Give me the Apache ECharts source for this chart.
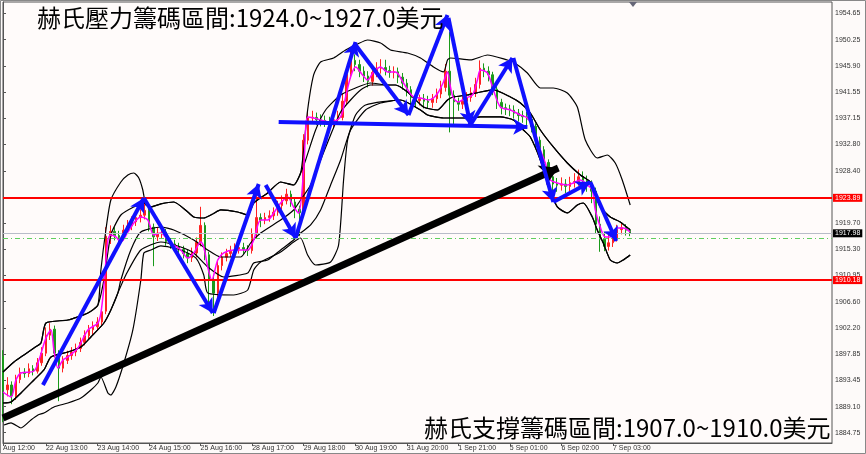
<!DOCTYPE html>
<html><head><meta charset="utf-8">
<script src="https://cdn.jsdelivr.net/npm/echarts@6/dist/echarts.min.js"></script>
<style>html,body{margin:0;padding:0;background:#fdfaf9;}#c{width:866px;height:454px;}</style>
</head><body><div id="c"></div>
<script>
// ---- data ----
const nCats = 194;
const xTickIdx = [0,10,22,34,46,58,70,82,94,106,118,130,142];
const xTickText = ['Aug 12:00','22 Aug 13:00','23 Aug 14:00','24 Aug 15:00','25 Aug 16:00','28 Aug 17:00','29 Aug 18:00','30 Aug 19:00','31 Aug 20:00','1 Sep 21:00','5 Sep 01:00','6 Sep 02:00','7 Sep 03:00'];
const yTicks = [1884.75,1889.10,1893.45,1897.85,1902.20,1906.60,1910.95,1915.30,1919.70,1928.40,1932.80,1937.15,1941.55,1945.90,1950.25,1954.65];
const yMin = 1883.03, yMax = 1956.53;

const opens = [1897.5,1891.9,1892.7,1890.9,1893.6,1894.8,1894.6,1895.4,1895.0,1896.4,
1898.0,1901.0,1902.0,1898.0,1895.5,1896.8,1897.6,1898.2,1898.8,1899.8,
1900.9,1901.9,1902.4,1903.2,1905.0,1917.5,1918.3,1917.6,1917.3,1918.5,
1919.2,1919.9,1920.6,1921.0,1921.8,1919.0,1917.4,1918.0,1918.2,1916.6,
1916.2,1915.8,1915.3,1914.6,1913.9,1914.7,1916.5,1919.3,1914.4,1910.2,
1908.0,1912.6,1914.0,1914.6,1915.0,1915.4,1915.6,1915.3,1915.1,1917.9,
1920.6,1920.2,1920.6,1920.9,1921.5,1922.6,1923.4,1924.5,1923.2,1922.0,
1921.4,1933.5,1937.2,1937.3,1936.9,1936.8,1936.6,1936.4,1936.9,1937.3,
1940.0,1944.5,1946.8,1946.1,1945.0,1944.2,1943.3,1944.8,1945.5,1945.6,
1945.1,1944.8,1944.9,1944.0,1943.0,1941.9,1940.6,1940.1,1940.4,1940.0,
1939.8,1940.4,1941.2,1942.3,1945.0,1941.0,1939.9,1939.5,1940.0,1940.6,
1941.4,1942.8,1945.5,1945.0,1944.4,1942.0,1939.8,1938.9,1938.7,1938.5,
1938.0,1937.6,1937.4,1937.0,1935.8,1933.5,1931.9,1929.8,1927.4,1926.2,
1926.0,1926.2,1925.8,1926.4,1926.6,1927.4,1926.8,1926.0,1925.0,1919.5,
1917.0,1915.8,1916.4,1917.2,1918.6,1918.9,1918.5];
const closes = [1891.9,1892.7,1890.9,1893.6,1894.8,1894.6,1895.4,1895.0,1896.4,1898.0,
1901.0,1902.0,1898.0,1895.5,1896.8,1897.6,1898.2,1898.8,1899.8,1900.9,
1901.9,1902.4,1903.2,1904.9,1917.5,1918.3,1917.6,1917.3,1918.5,1919.2,
1919.9,1920.6,1921.0,1921.8,1919.0,1917.4,1918.0,1918.2,1916.6,1916.2,
1915.8,1915.3,1914.6,1913.9,1914.7,1916.5,1919.3,1914.4,1910.2,1908.0,
1912.6,1914.0,1914.6,1915.0,1915.4,1915.6,1915.3,1915.1,1917.9,1920.6,
1920.2,1920.6,1920.9,1921.5,1922.6,1923.4,1924.5,1923.2,1922.0,1921.4,
1933.5,1937.2,1937.3,1936.9,1936.8,1936.6,1936.4,1936.9,1937.3,1940.0,
1944.5,1946.8,1946.1,1945.0,1944.2,1943.3,1944.8,1945.5,1945.6,1945.1,
1944.8,1944.9,1944.0,1943.0,1941.9,1940.6,1940.1,1940.4,1940.0,1939.8,
1940.4,1941.2,1942.3,1945.0,1941.0,1939.9,1939.5,1940.0,1940.6,1941.4,
1942.8,1945.5,1945.0,1944.4,1942.0,1939.8,1938.9,1938.7,1938.5,1938.0,
1937.6,1937.4,1937.0,1935.8,1933.5,1931.9,1929.8,1927.4,1926.2,1926.0,
1926.2,1925.8,1926.4,1926.6,1927.4,1926.8,1926.0,1925.0,1919.5,1917.0,
1915.8,1916.4,1917.2,1918.6,1918.9,1918.5,1917.98];
const lows = [1886.5,1890.8,1889.5,1890.2,1893.0,1893.9,1894.0,1894.3,1894.6,1895.9,
1897.5,1900.2,1897.3,1890.0,1894.8,1896.2,1896.9,1897.5,1898.2,1899.3,
1900.2,1901.0,1901.8,1902.5,1904.5,1916.2,1916.8,1916.4,1916.8,1917.9,
1918.5,1919.2,1919.8,1920.3,1918.3,1912.5,1916.7,1917.2,1915.9,1915.4,
1915.0,1914.5,1913.8,1913.0,1913.2,1914.0,1915.8,1913.5,1905.5,1904.2,
1907.3,1911.8,1913.3,1914.0,1914.3,1914.6,1914.5,1914.2,1914.6,1917.2,
1919.0,1919.5,1919.9,1920.2,1920.9,1921.9,1922.8,1922.4,1920.5,1917.5,
1920.8,1932.8,1936.3,1936.0,1935.8,1935.7,1935.5,1935.6,1936.1,1936.8,
1939.4,1943.8,1945.0,1944.0,1943.2,1942.3,1942.6,1944.0,1944.6,1944.3,
1943.9,1943.8,1943.0,1941.9,1940.8,1939.5,1939.0,1939.3,1938.8,1938.7,
1938.9,1939.7,1940.5,1941.6,1934.8,1936.0,1938.4,1938.7,1939.2,1939.9,
1940.7,1942.1,1944.0,1943.3,1941.0,1938.7,1937.8,1937.7,1937.5,1937.1,
1936.6,1936.4,1936.0,1934.8,1932.4,1930.8,1928.6,1926.0,1925.0,1924.9,
1925.1,1924.7,1925.0,1925.6,1925.9,1925.9,1924.9,1923.0,1918.0,1914.9,
1915.0,1915.1,1915.7,1916.6,1917.8,1917.6,1917.5];
const highs = [1898.5,1894.0,1893.3,1894.4,1895.6,1895.5,1896.3,1896.0,1897.2,1899.0,
1902.3,1903.0,1902.6,1898.5,1897.5,1898.4,1899.0,1899.6,1900.6,1901.8,
1902.7,1903.3,1904.0,1905.8,1919.0,1919.3,1919.0,1918.4,1919.4,1920.2,
1920.8,1921.6,1922.0,1924.0,1922.4,1919.6,1918.9,1919.0,1918.7,1917.2,
1916.9,1916.4,1915.9,1915.2,1915.6,1917.3,1922.4,1919.8,1914.9,1911.0,
1913.4,1914.8,1915.4,1915.9,1916.3,1916.6,1916.4,1916.0,1918.8,1926.0,
1921.3,1921.4,1921.8,1922.3,1923.4,1924.3,1925.4,1925.1,1923.8,1922.6,
1934.5,1938.2,1938.4,1938.1,1937.8,1937.6,1937.4,1937.8,1938.4,1941.2,
1945.8,1948.5,1947.8,1946.9,1945.8,1945.0,1945.7,1946.5,1947.0,1946.9,
1945.9,1945.8,1945.6,1944.7,1943.7,1942.5,1941.3,1941.1,1941.2,1940.9,
1941.2,1942.1,1943.4,1946.2,1951.5,1941.8,1940.6,1940.9,1941.5,1942.3,
1943.9,1946.8,1946.3,1945.8,1944.9,1942.6,1940.4,1939.6,1939.4,1939.3,
1938.7,1938.4,1938.2,1937.8,1936.3,1934.1,1932.5,1930.3,1928.0,1927.2,
1927.3,1927.0,1927.4,1928.0,1928.6,1928.3,1927.6,1926.8,1925.6,1920.8,
1918.2,1917.9,1918.1,1919.4,1919.8,1919.5,1918.8];

const maLine = [[0,1891.53],[1.86,1890.70],[3.02,1893.53],[4.19,1894.70],[7.21,1895.03],[8.37,1896.87],[10.0,1900.53],[11.16,1901.87],[11.86,1898.53],[12.79,1895.53],[13.95,1896.87],[15.11,1897.37],[17.44,1898.87],[19.77,1901.87],[22.09,1903.03],[22.79,1904.70],[23.49,1909.03],[24.42,1916.87],[25.11,1917.70],[26.28,1917.37],[27.44,1916.53],[29.07,1918.20],[30.46,1919.70],[32.09,1920.70],[33.72,1920.20],[35.11,1917.70],[36.74,1918.03],[38.37,1916.87],[39.76,1916.03],[41.39,1915.20],[43.02,1913.87],[44.41,1914.70],[46.04,1916.53],[46.74,1915.70],[47.67,1912.37],[48.60,1910.20],[49.99,1913.53],[51.39,1914.70],[53.71,1915.20],[56.97,1915.20],[58.37,1916.87],[60.0,1920.20],[61.62,1920.20],[63.02,1921.37],[64.64,1923.03],[66.27,1924.03],[67.67,1922.37],[68.83,1921.37],[69.99,1928.53],[70.92,1937.37],[72.32,1937.20],[76.27,1936.53],[78.60,1937.37],[79.76,1940.70],[80.92,1944.03],[82.08,1945.70],[83.71,1944.37],[84.87,1943.53],[86.27,1944.87],[87.90,1945.70],[89.52,1944.87],[91.38,1944.87],[93.24,1943.03],[95.57,1940.70],[97.20,1940.53],[99.06,1940.20],[100.22,1940.53],[101.38,1941.53],[102.55,1943.20],[103.48,1944.87],[104.17,1942.37],[104.87,1940.53],[106.03,1939.87],[107.66,1940.53],[109.29,1941.03],[110.45,1943.53],[111.15,1945.20],[112.78,1944.70],[114.17,1941.87],[115.80,1939.03],[118.13,1938.53],[120.46,1937.70],[122.08,1937.20],[123.47,1935.53],[125.10,1931.87],[126.26,1929.70],[127.42,1926.87],[129.05,1926.37],[131.38,1926.03],[132.78,1926.37],[134.41,1926.87],[136.03,1926.03],[137.19,1925.20],[137.89,1921.87],[139.05,1919.03],[140.21,1917.37],[141.38,1917.37],[143.0,1918.87],[144.4,1918.87],[146.02,1918.20]];

const bandUpperOuter = [[0,1894.87],[2.56,1896.53],[4.88,1897.70],[7.21,1898.87],[8.84,1899.70],[10.0,1903.03],[15.11,1903.53],[19.77,1904.70],[22.09,1906.03],[22.79,1911.87],[23.95,1918.53],[25.11,1923.53],[27.44,1926.53],[29.07,1927.70],[30.46,1928.03],[31.62,1927.20],[32.55,1925.20],[33.25,1922.70],[34.41,1922.37],[36.74,1922.87],[39.76,1923.20],[43.02,1921.53],[44.41,1920.70],[46.74,1920.53],[48.83,1921.20],[50.69,1921.87],[54.64,1921.53],[56.97,1921.03],[58.37,1923.03],[61.62,1924.70],[64.64,1926.53],[67.67,1926.03],[69.29,1928.03],[69.99,1931.87],[70.92,1938.53],[72.32,1944.37],[73.94,1946.53],[76.97,1947.20],[79.76,1948.53],[82.55,1949.53],[84.87,1950.20],[87.90,1949.70],[90.22,1948.53],[94.17,1948.03],[97.20,1947.20],[100.22,1945.70],[102.55,1944.87],[103.48,1946.87],[104.17,1947.20],[108.82,1946.87],[112.78,1947.70],[117.43,1946.87],[118.82,1946.53],[122.08,1944.70],[125.10,1942.20],[128.12,1942.20],[131.38,1941.37],[133.71,1939.03],[135.57,1933.53],[138.35,1930.53],[140.68,1931.03],[142.54,1929.70],[144.17,1926.87],[146.02,1922.70]];
const bandUpperInner = [[0,1894.87],[2.56,1896.53],[4.88,1897.70],[7.21,1898.87],[8.84,1899.70],[10.0,1903.03],[15.11,1903.53],[19.77,1904.70],[22.09,1906.03],[23.49,1910.20],[25.11,1917.70],[27.44,1921.03],[30.46,1922.37],[32.79,1923.03],[34.41,1922.37],[36.74,1922.87],[39.76,1923.20],[43.02,1921.53],[44.41,1920.70],[46.74,1920.53],[48.83,1921.20],[50.69,1921.87],[54.64,1921.53],[56.97,1921.03],[58.37,1923.03],[61.62,1924.70],[64.64,1926.53],[67.67,1926.03],[69.29,1928.03],[70.46,1930.20],[72.78,1935.20],[75.11,1938.53],[78.60,1941.03],[82.08,1942.20],[85.57,1943.03],[89.52,1942.70],[91.38,1942.70],[94.17,1941.53],[97.90,1939.03],[101.15,1938.53],[103.48,1940.20],[104.87,1940.70],[108.13,1941.03],[111.15,1941.53],[114.17,1941.87],[118.13,1940.70],[120.46,1939.70],[122.77,1938.03],[125.10,1935.20],[128.12,1932.37],[131.38,1929.70],[134.41,1927.70],[136.72,1926.53],[139.05,1922.37],[141.38,1920.70],[143.70,1919.87],[146.02,1918.53]];
const bandMiddle = [[0,1889.70],[1.86,1889.87],[4.19,1891.37],[7.21,1893.53],[9.53,1895.20],[11.16,1897.37],[15.11,1898.20],[18.14,1899.03],[20.46,1900.70],[23.49,1903.03],[25.11,1905.20],[26.74,1908.03],[27.44,1910.20],[29.76,1915.20],[32.09,1918.20],[36.74,1919.03],[39.76,1918.53],[44.41,1916.87],[47.67,1915.20],[50.69,1914.03],[55.34,1914.03],[57.67,1916.37],[59.99,1918.03],[64.64,1920.20],[67.67,1921.87],[69.29,1923.53],[71.62,1926.03],[73.94,1930.20],[76.27,1934.37],[78.60,1938.20],[80.92,1940.20],[83.25,1941.87],[85.57,1942.70],[89.52,1942.70],[91.38,1942.70],[94.17,1941.53],[97.90,1939.03],[101.15,1938.53],[103.48,1940.20],[104.87,1940.70],[108.13,1941.03],[111.15,1941.53],[114.17,1941.87],[118.13,1940.70],[120.46,1939.70],[122.77,1938.03],[125.10,1935.20],[128.12,1932.37],[131.38,1929.70],[134.41,1927.70],[136.72,1926.53],[139.05,1922.37],[141.38,1920.70],[143.70,1919.87],[146.02,1918.53]];
const bandLowerInner = [[0,1889.70],[1.86,1889.87],[4.19,1891.37],[7.21,1893.53],[9.53,1895.20],[11.16,1897.37],[15.11,1898.20],[18.14,1899.03],[20.46,1900.70],[23.49,1903.03],[25.11,1905.20],[26.74,1908.03],[28.60,1911.03],[32.09,1915.20],[36.74,1916.53],[41.39,1915.70],[44.41,1914.70],[47.67,1912.37],[51.39,1910.70],[56.97,1911.37],[58.37,1913.03],[61.62,1913.53],[64.64,1915.20],[67.67,1916.87],[69.29,1918.03],[71.62,1919.37],[73.94,1921.87],[76.27,1926.03],[78.60,1930.20],[80.92,1935.20],[84.41,1938.53],[87.90,1939.70],[92.55,1940.20],[97.20,1938.53],[98.83,1937.70],[102.55,1937.20],[108.13,1937.20],[111.15,1937.37],[115.80,1937.37],[118.82,1936.87],[121.15,1935.20],[122.77,1934.03],[125.10,1930.20],[127.42,1925.20],[129.05,1922.37],[131.38,1921.37],[133.71,1922.70],[135.11,1923.03],[137.19,1920.70],[138.35,1918.53],[139.75,1916.37],[141.38,1913.53],[143.0,1913.03],[144.40,1913.53],[146.02,1914.37]];
const bandLowerOuter = [[0.23,1886.03],[1.86,1886.37],[4.19,1885.53],[6.51,1886.87],[8.14,1887.70],[9.53,1888.03],[11.86,1889.03],[15.11,1889.70],[18.14,1890.53],[20.46,1891.87],[22.09,1893.03],[22.79,1894.03],[24.42,1891.37],[25.11,1891.03],[26.28,1892.37],[28.14,1896.37],[30.23,1901.87],[32.09,1910.20],[32.79,1914.70],[34.41,1915.20],[36.74,1915.87],[41.39,1915.20],[44.88,1913.87],[46.74,1911.03],[47.67,1908.03],[53.71,1907.70],[56.97,1908.53],[58.37,1911.87],[59.99,1913.20],[64.64,1914.87],[67.67,1916.53],[69.29,1917.20],[70.92,1914.37],[72.78,1912.70],[76.27,1913.20],[78.13,1916.03],[79.29,1926.87],[80.23,1933.53],[82.08,1937.70],[84.41,1939.37],[92.55,1940.20],[97.20,1938.53],[98.83,1937.70],[102.55,1937.20],[108.13,1937.20],[111.15,1937.37],[115.80,1937.37],[118.82,1936.87],[121.15,1935.20],[122.77,1934.03],[125.10,1930.20],[127.42,1925.20],[129.05,1922.37],[131.38,1921.37],[133.71,1922.70],[135.11,1923.03],[137.19,1920.70],[138.35,1918.53],[139.75,1916.37],[141.38,1913.53],[143.0,1913.03],[144.40,1913.53],[146.02,1914.37]];

const resistLevel = 1923.89, supportLevel = 1910.18, bidLevel = 1917.98, askLevel = 1917.2;
const blueArrows = [
  [[9.30,1892.70],[32.79,1923.87]],
  [[32.79,1923.87],[48.83,1904.70]],
  [[49.06,1904.70],[59.53,1926.20]],
  [[61.16,1926.03],[68.13,1917.20]],
  [[68.13,1917.20],[82.08,1949.87]],
  [[82.08,1949.37],[94.41,1937.70]],
  [[94.41,1937.70],[103.48,1954.37]],
  [[103.71,1953.87],[108.82,1936.03]],
  [[108.82,1936.03],[118.59,1947.20]],
  [[118.82,1947.20],[128.12,1923.20]],
  [[128.12,1923.20],[136.72,1926.53]],
  [[136.72,1926.53],[142.77,1916.70]],
  [[64.18,1936.53],[122.08,1935.70]]
];
const blackArrow = [[0,1887.2],[129.29,1928.87]];
const topNote = '赫氏壓力籌碼區間:1924.0~1927.0美元';
const bottomNote = '赫氏支撐籌碼區間:1907.0~1910.0美元';

// ---- chart ----
const chart = echarts.init(document.getElementById('c'), null, {renderer:'canvas'});
const cats = Array.from({length:nCats}, (_, i) => String(i));
const candleData = opens.map((o, i) => [o, closes[i], lows[i], highs[i]]);
function bandSeries(data, name){
  return {name, type:'line', xAxisIndex:1, yAxisIndex:0, data, symbol:'none', smooth:0.2,
    lineStyle:{color:'#000', width:1.2}, z:3, silent:true};
}
function hLine(val, color, type, width, labelText, labelBg){
  return {yAxis: val, lineStyle:{color, type, width},
    label: labelText ? {show:true, position:'end', formatter:labelText, distance:1,
      backgroundColor:labelBg, color:'#fff', fontSize:7, fontFamily:'Liberation Sans', padding:[1,2,0,2]} : {show:false}};
}
const arrowLines = blueArrows.map(a => [{coord:a[0]},{coord:a[1]}]);

chart.setOption({
  backgroundColor:'#fdfaf9',
  animation:false,
  grid:{left:2, right:34, top:2, bottom:11, show:true, borderColor:'#555', borderWidth:1, backgroundColor:'#fffbfa'},
  xAxis:[
    {type:'category', data:cats, boundaryGap:false, show:false},
    {type:'value', min:0, max:nCats-1, position:'bottom',
      axisLine:{show:true, lineStyle:{color:'#555'}},
      axisTick:{show:true, customValues:xTickIdx, length:3, lineStyle:{color:'#555'}},
      axisLabel:{show:true, customValues:xTickIdx, align:'left', fontSize:7, margin:2, color:'#333', fontFamily:'Liberation Sans',
        formatter:v => { const k = xTickIdx.indexOf(Math.round(v)); return k >= 0 ? xTickText[k] : ''; }},
      splitLine:{show:false}}
  ],
  yAxis:[{type:'value', position:'right', min:yMin, max:yMax,
    axisLine:{show:true, lineStyle:{color:'#555'}},
    axisTick:{show:true, customValues:yTicks, length:3, lineStyle:{color:'#555'}},
    axisLabel:{show:true, customValues:yTicks, fontSize:7, margin:3, color:'#333', fontFamily:'Liberation Sans',
      formatter:v => v.toFixed(2)},
    splitLine:{show:false}}],
  series:[
    {type:'candlestick', xAxisIndex:0, yAxisIndex:0, data:candleData, barMaxWidth:2,
      itemStyle:{color:'#f22', color0:'#1a9a1a', borderColor:'#f22', borderColor0:'#1a9a1a', borderWidth:1}, z:2, silent:true},
    bandSeries(bandUpperOuter,'ou'),
    bandSeries(bandUpperInner,'iu'),
    bandSeries(bandMiddle,'m'),
    bandSeries(bandLowerInner,'il'),
    bandSeries(bandLowerOuter,'ol'),
    {name:'ma', type:'line', xAxisIndex:1, data:maLine, symbol:'none', smooth:0.3,
      lineStyle:{color:'#ff00ff', width:1.5}, z:4, silent:true},
    {name:'levels', type:'line', xAxisIndex:1, data:[], z:5, silent:true,
      markLine:{silent:true, symbol:['none','none'], animation:false,
        data:[
          hLine(bidLevel,'#b8bcc8','solid',1,'1917.98','#000'),
          hLine(askLevel,'#5fcf5f',[5,3,1,3],1,null,null),
          hLine(resistLevel,'#ff0000','solid',2,'1923.89','#ff0000'),
          hLine(supportLevel,'#ff0000','solid',2,'1910.18','#ff0000')
        ]}},
    {name:'blackArrow', type:'line', xAxisIndex:1, data:[], z:6, silent:true,
      markLine:{silent:true, symbol:['none','arrow'], symbolSize:[16,18], animation:false, label:{show:false},
        lineStyle:{color:'#000', width:7, type:'solid'},
        data:[[{coord:blackArrow[0]},{coord:blackArrow[1]}]]}},
    {name:'blueArrows', type:'line', xAxisIndex:1, data:[], z:7, silent:true,
      markLine:{silent:true, symbol:['none','arrow'], symbolSize:[12,14], animation:false, label:{show:false},
        lineStyle:{color:'#1010ff', width:4, type:'solid'},
        data:arrowLines}}
  ],
  graphic:[
    {type:'polygon', shape:{points:[[629,2],[637,2],[633,7]]}, style:{fill:'#667'}, z:100},
    {type:'text', left:37, top:6, style:{text:topNote, font:'24px "Noto Sans CJK TC"', fill:'#000'}, z:100},
    {type:'text', left:424, top:416, style:{text:bottomNote, font:'24px "Noto Sans CJK TC"', fill:'#000'}, z:100},
    {type:'rect', shape:{x:0.5, y:0.5, width:865, height:453}, style:{fill:'none', stroke:'#888', lineWidth:1}, z:100}
  ]
});
</script>
</body></html>
